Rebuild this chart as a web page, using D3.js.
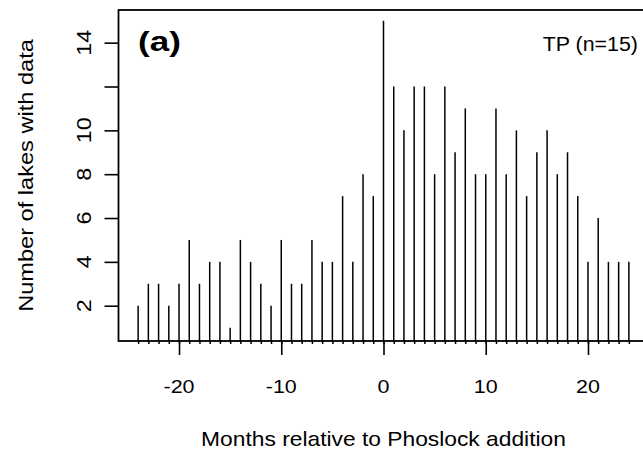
<!DOCTYPE html>
<html>
<head>
<meta charset="utf-8">
<script src="https://cdn.jsdelivr.net/npm/d3@7"></script>
<style>
  body { margin: 0; background: #fff; }
  text { font-family: "Liberation Sans", Arial, sans-serif; fill: #000; }
</style>
</head>
<body>
<div id="chart"></div>
<script>
// months relative to addition and number of lakes with TP data
var months = [-24, -23, -22, -21, -20, -19, -18, -17, -16, -15, -14, -13, -12, -11, -10, -9, -8,
              -7, -6, -5, -4, -3, -2, -1, 0, 1, 2, 3, 4, 5, 6, 7, 8, 9, 10, 11, 12,
              13, 14, 15, 16, 17, 18, 19, 20, 21, 22, 23, 24];
var lakes = [2, 3, 3, 2, 3, 5, 3, 4, 4, 1, 5, 4, 3, 2, 5, 3, 3,
             5, 4, 4, 7, 4, 8, 7, 15, 12, 10, 12, 12, 8, 12, 9, 11, 8, 8, 11, 8,
             10, 7, 9, 10, 8, 9, 7, 4, 6, 4, 4, 4];
var xMajor = [-20, -10, 0, 10, 20];
var yTicks = [2, 4, 6, 8, 10, 12, 14];
var yLabels = ["2", "4", "6", "8", "10", "", "14"];

var w = 643, h = 454;
var mLeft = 118.5, mRight = 648.5, mTop = 10, mBottom = 341;

var svg = d3.select("#chart")
            .append("svg")
            .attr("width", w)
            .attr("height", h);

var x = d3.scaleLinear().domain([-25.92, 25.92]).range([mLeft, mRight]);
var y = d3.scaleLinear().domain([0.39, 15.49]).range([mBottom, mTop]);

// vertical lines (type = "h")
svg.selectAll("line.bar")
   .data(months)
   .enter()
   .append("line")
   .attr("class", "bar")
   .attr("x1", function(d) { return x(d); })
   .attr("x2", function(d) { return x(d); })
   .attr("y1", mBottom)
   .attr("y2", function(d, i) { return y(lakes[i]); })
   .attr("stroke", "#000")
   .attr("stroke-width", 1.5);

// box
svg.append("rect")
   .attr("x", mLeft)
   .attr("y", mTop)
   .attr("width", mRight - mLeft)
   .attr("height", mBottom - mTop)
   .attr("fill", "none")
   .attr("stroke", "#000")
   .attr("stroke-width", 1.8);

// x axis: small tick every month, long ticks + labels every 10
var xMinor = svg.append("g").attr("transform", "translate(0," + mBottom + ")")
   .call(d3.axisBottom(x).tickValues(months).tickSize(3).tickFormat(""));
xMinor.select(".domain").remove();
xMinor.selectAll("line").attr("stroke-width", 1.5);

var xAxis = svg.append("g").attr("transform", "translate(0," + mBottom + ")")
   .call(d3.axisBottom(x).tickValues(xMajor).tickSize(14).tickFormat(""));
xAxis.select(".domain").remove();
xAxis.selectAll("line").attr("stroke-width", 1.6);

// glyphs in the reference run wider than tall, so stretch along the text
function wide(sel, px, py, sx, rot) {
  sel.attr("transform", "translate(" + px + "," + py + ")" + (rot ? " rotate(-90)" : "") + " scale(" + sx + ",1)");
}

xMajor.forEach(function(d) {
  svg.append("text")
     .attr("text-anchor", "middle")
     .attr("font-size", 19)
     .call(wide, x(d), 393, 1.13, false)
     .text(String(d));
});

// y axis with rotated labels
var yAxis = svg.append("g").attr("transform", "translate(" + mLeft + ",0)")
   .call(d3.axisLeft(y).tickValues(yTicks).tickSize(14).tickFormat(""));
yAxis.select(".domain").remove();
yAxis.selectAll("line").attr("stroke-width", 1.6);

yTicks.forEach(function(d, i) {
  svg.append("text")
     .attr("text-anchor", "middle")
     .attr("font-size", 20)
     .call(wide, 91, y(d), 1.17, true)
     .text(yLabels[i]);
});

// axis titles
svg.append("text")
   .attr("text-anchor", "middle")
   .attr("font-size", 20)
   .call(wide, (mLeft + mRight) / 2, 446, 1.14, false)
   .text("Months relative to Phoslock addition");

svg.append("text")
   .attr("text-anchor", "middle")
   .attr("font-size", 20)
   .call(wide, 33, (mTop + mBottom) / 2, 1.18, true)
   .text("Number of lakes with data");

// panel tag and note
svg.append("text")
   .attr("font-size", 27)
   .attr("font-weight", "bold")
   .call(wide, 138, 51, 1.3, false)
   .text("(a)");

svg.append("text")
   .attr("text-anchor", "end")
   .attr("font-size", 20)
   .call(wide, 638, 51, 1.07, false)
   .text("TP (n=15)");
</script>
</body>
</html>
